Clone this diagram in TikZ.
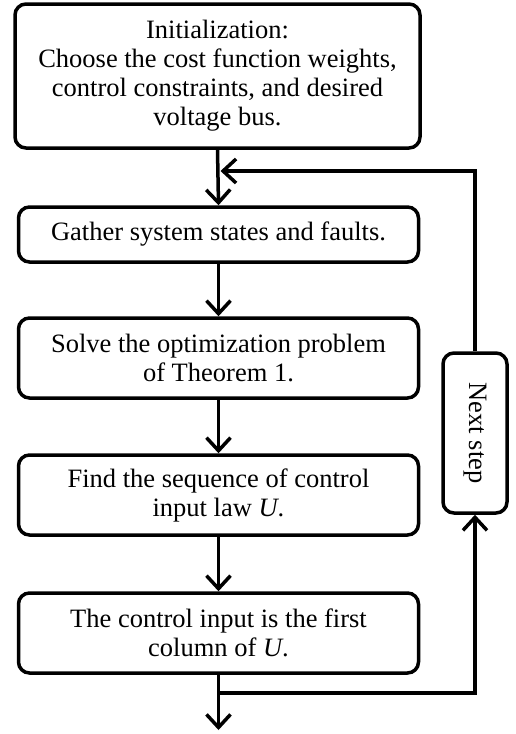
\documentclass[tikz,border=0pt]{standalone}
\usepackage{fontspec}
\setmainfont{Liberation Serif}
\usetikzlibrary{arrows.meta}
\begin{document}
\begin{tikzpicture}[x=1pt,y=-1pt,
  font=\fontsize{26.5}{29}\selectfont,
  blk/.style={draw, line width=3.5pt, rounded corners=11pt, align=center, inner sep=0pt, minimum width=400pt},
  conn/.style={line width=3.5pt, -{Straight Barb[length=13pt,width=24pt,line width=3.5pt]}},
  plain/.style={line width=3.5pt}]
\useasboundingbox (0,0) rectangle (515,734);
\node[blk, minimum width=405pt, minimum height=144pt] (b1) at (217.5,76) {Initialization:\\Choose the cost function weights,\\control constraints, and desired\\voltage bus.};
\node[blk, minimum height=55pt] (b2) at (218.5,234.5) {Gather system states and faults.};
\node[blk, minimum height=80pt] (b3) at (218.5,358) {Solve the optimization problem\\of Theorem 1.};
\node[blk, minimum height=80pt] (b4) at (218.5,495) {Find the sequence of control\\input law \textit{U}.};
\node[blk, minimum height=80pt] (b5) at (218.5,633) {The control input is the first\\column of \textit{U}.};
\node[draw, line width=3.5pt, rounded corners=11pt, inner sep=0pt, minimum width=160pt, minimum height=64pt, rotate=-90] (ns) at (475,433) {Next step};
\coordinate (j) at (218.5,693);
\coordinate (e) at (218.5,730);
\coordinate (m) at (220.5,171);
\draw[conn] (b1.south) -- (b2.north);
\draw[conn] (b2.south) -- (b3.north);
\draw[conn] (b3.south) -- (b4.north);
\draw[conn] (b4.south) -- (b5.north);
\draw[conn] (b5.south) -- (e);
\draw[conn] (j) -| (ns.east);
\draw[conn] (ns.west) |- (m);
\end{tikzpicture}
\end{document}
